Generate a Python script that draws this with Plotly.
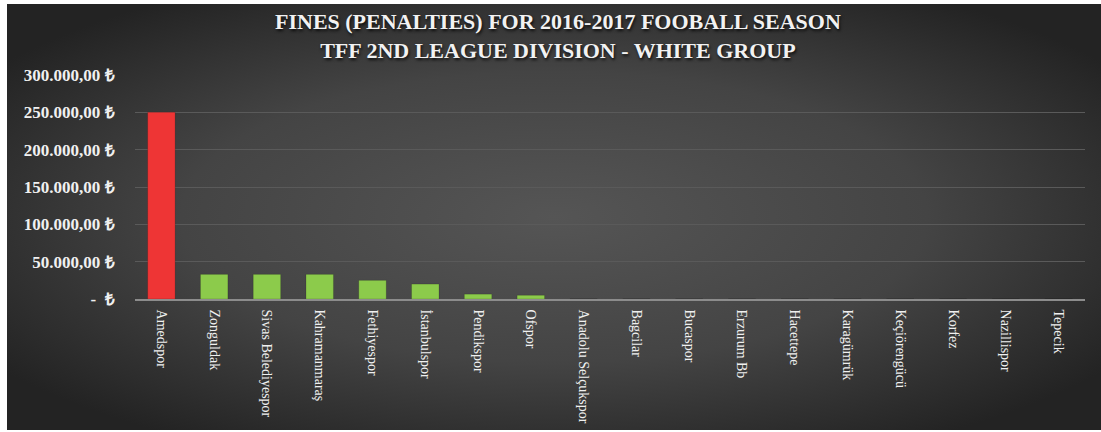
import base64
import plotly.graph_objects as go

teams = ["Amedspor", "Zonguldak", "Sivas Belediyespor", "Kahramanmaraş", "Fethiyespor",
         "İstanbulspor", "Pendikspor", "Ofspor", "Anadolu Selçukspor", "Bagcilar",
         "Bucaspor", "Erzurum Bb", "Hacettepe", "Karagümrük", "Keçiörengücü",
         "Korfez", "Nazillispor", "Tepecik"]
fines = [250000, 33000, 33000, 33000, 25000, 20000, 6500, 5000, 0, 0,
         0, 0, 0, 0, 0, 0, 0, 0]
tick_values = [0, 50000, 100000, 150000, 200000, 250000, 300000]
tick_labels = ["-  ₺", "50.000,00 ₺", "100.000,00 ₺", "150.000,00 ₺",
               "200.000,00 ₺", "250.000,00 ₺", "300.000,00 ₺"]
title_lines = ["FINES (PENALTIES) FOR 2016-2017 FOOBALL SEASON",
               "TFF 2ND LEAGUE DIVISION - WHITE GROUP"]

RED = "#EE3535"
GREEN = "#8CCB4B"
bar_colors = [RED if v == max(fines) else GREEN for v in fines]

svg = """<svg xmlns='http://www.w3.org/2000/svg' width='1094' height='426' preserveAspectRatio='none' viewBox='0 0 1094 426'>
<defs><radialGradient id='g' cx='50%' cy='50%' r='62%'>
<stop offset='0%' stop-color='#555555'/>
<stop offset='55%' stop-color='#444444'/>
<stop offset='100%' stop-color='#232323'/>
</radialGradient></defs>
<rect x='0' y='0' width='1094' height='426' fill='url(#g)'/>
</svg>"""
src = "data:image/svg+xml;base64," + base64.b64encode(svg.encode()).decode()

fig = go.Figure(go.Bar(
    x=teams, y=fines,
    marker=dict(color=bar_colors, line=dict(color="rgba(0,0,0,0.15)", width=1)),
    width=0.52,
))

L, R, T, B = 135, 16, 75, 133
W, H = 1101, 432
pw, ph = W - L - R, H - T - B

def px(x):
    return (x - L) / pw

def py(y):
    return (H - B - y) / ph

fig.add_layout_image(dict(
    source=src, xref="paper", yref="paper",
    x=px(7), y=py(4), sizex=px(1101) - px(7), sizey=py(4) - py(430),
    xanchor="left", yanchor="top", sizing="stretch", layer="below",
))

fig.add_annotation(
    text="<br>".join(title_lines), xref="paper", yref="paper",
    x=px(558), y=py(36), xanchor="center", yanchor="middle",
    showarrow=False, align="center",
    font=dict(family="Liberation Serif", size=22, color="#F2F2F2", weight="bold",
              shadow="1px 2px 3px rgba(0,0,0,0.8)"),
)

fig.update_layout(
    width=W, height=H,
    margin=dict(l=L, r=R, t=T, b=B, pad=0, autoexpand=False),
    paper_bgcolor="white",
    plot_bgcolor="rgba(0,0,0,0)",
    showlegend=False,
    xaxis=dict(
        range=[-0.5, 17.5],
        automargin=False,
        tickangle=90,
        tickfont=dict(family="Liberation Serif", size=14, color="#F0F0F0"),
        showline=True, linecolor="#8C8C8C", linewidth=1.5,
        showgrid=False,
        ticks="outside", ticklen=6, tickcolor="rgba(0,0,0,0)",
        fixedrange=True,
    ),
    yaxis=dict(
        range=[0, 300000],
        automargin=False,
        tickvals=tick_values, ticktext=tick_labels,
        tickfont=dict(family="Liberation Serif", size=17, color="#F0F0F0", weight="bold"),
        showgrid=True, gridcolor="#5A5A5A", gridwidth=1,
        zeroline=False,
        ticks="outside", ticklen=16, tickcolor="rgba(0,0,0,0)",
        fixedrange=True,
    ),
)

fig.write_html("out.html")
